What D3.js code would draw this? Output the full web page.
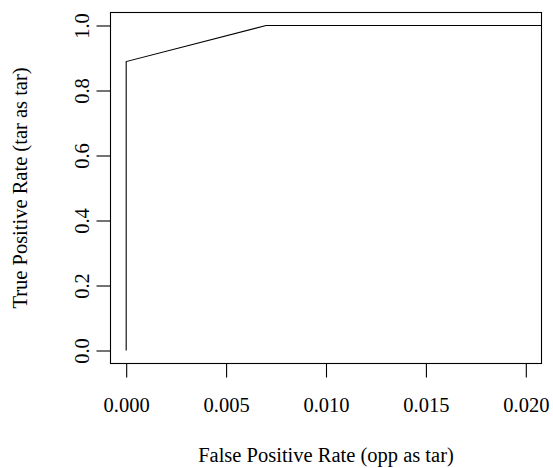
<!DOCTYPE html>
<html>
<head>
<meta charset="utf-8">
<script src="https://cdn.jsdelivr.net/npm/d3@7"></script>
<style>
  body { margin: 0; background: #fff; }
  svg text { font-family: "Liberation Serif", "Times New Roman", serif; fill: #000; }
</style>
</head>
<body>
<div id="chart"></div>
<script>
// ROC curve points (false positive rate vs true positive rate)
var fpr = [0, 0, 0.007, 1];
var tpr = [0, 0.889, 1, 1];

// tick labels
var xTicks = [0.000, 0.005, 0.010, 0.015, 0.020];
var yTicks = [0.0, 0.2, 0.4, 0.6, 0.8, 1.0];

var xTitle = "False Positive Rate (opp as tar)";
var yTitle = "True Positive Rate (tar as tar)";

var svgWidth = 553;
var svgHeight = 468;
var serif = "'Liberation Serif', 'Times New Roman', serif";

// plot box (R style, 4% axis extension)
var box = { left: 110.5, right: 541.5, top: 12.5, bottom: 363.5 };

var svg = d3.select("#chart")
  .append("svg")
  .attr("width", svgWidth)
  .attr("height", svgHeight)
  .attr("font-family", serif);

var xScale = d3.scaleLinear()
  .domain([-0.000785, 0.020785])
  .range([box.left, box.right]);

var yScale = d3.scaleLinear()
  .domain([-0.04, 1.04])
  .range([box.bottom, box.top]);

// clip to the plot region
svg.append("clipPath")
  .attr("id", "plotclip")
  .append("rect")
  .attr("x", box.left)
  .attr("y", box.top)
  .attr("width", box.right - box.left)
  .attr("height", box.bottom - box.top);

var line = d3.line()
  .x(function(d) { return xScale(d[0]); })
  .y(function(d) { return yScale(d[1]); });

svg.append("path")
  .datum(fpr.map(function(f, i) { return [f, tpr[i]]; }))
  .attr("clip-path", "url(#plotclip)")
  .attr("fill", "none")
  .attr("stroke", "#000")
  .attr("stroke-width", 1.1)
  .attr("d", line);

// box around plot
svg.append("rect")
  .attr("x", box.left)
  .attr("y", box.top)
  .attr("width", box.right - box.left)
  .attr("height", box.bottom - box.top)
  .attr("fill", "none")
  .attr("stroke", "#000")
  .attr("stroke-width", 1.1);

// x axis
var xAxis = svg.append("g")
  .attr("transform", "translate(0," + box.bottom + ")")
  .call(d3.axisBottom(xScale).tickValues(xTicks).tickSize(14).tickFormat(d3.format(".3f")))
  .attr("font-family", serif)
  .attr("font-size", 20.5);
xAxis.select(".domain").remove();
xAxis.selectAll(".tick line").attr("stroke", "#000").attr("stroke-width", 1.1);
xAxis.selectAll(".tick text")
  .attr("y", 48)
  .attr("dy", null)
  .style("font-family", serif)
  .style("font-size", "20.5px");

// y axis
var yAxis = svg.append("g")
  .attr("transform", "translate(" + box.left + ",0)")
  .call(d3.axisLeft(yScale).tickValues(yTicks).tickSize(14).tickFormat(d3.format(".1f")))
  .attr("font-family", serif)
  .attr("font-size", 20.5);
yAxis.select(".domain").remove();
yAxis.selectAll(".tick line").attr("stroke", "#000").attr("stroke-width", 1.1);
yAxis.selectAll(".tick text")
  .attr("x", null)
  .attr("dy", null)
  .attr("text-anchor", "middle")
  .attr("transform", "translate(-21.5,0) rotate(-90)")
  .style("font-family", serif)
  .style("font-size", "20.5px");

// axis titles
svg.append("text")
  .attr("x", (box.left + box.right) / 2)
  .attr("y", 462)
  .attr("text-anchor", "middle")
  .style("font-size", "20.5px")
  .text(xTitle);

svg.append("text")
  .attr("transform", "translate(26.5," + (box.top + box.bottom) / 2 + ") rotate(-90)")
  .attr("text-anchor", "middle")
  .style("font-size", "20.5px")
  .text(yTitle);
</script>
</body>
</html>
